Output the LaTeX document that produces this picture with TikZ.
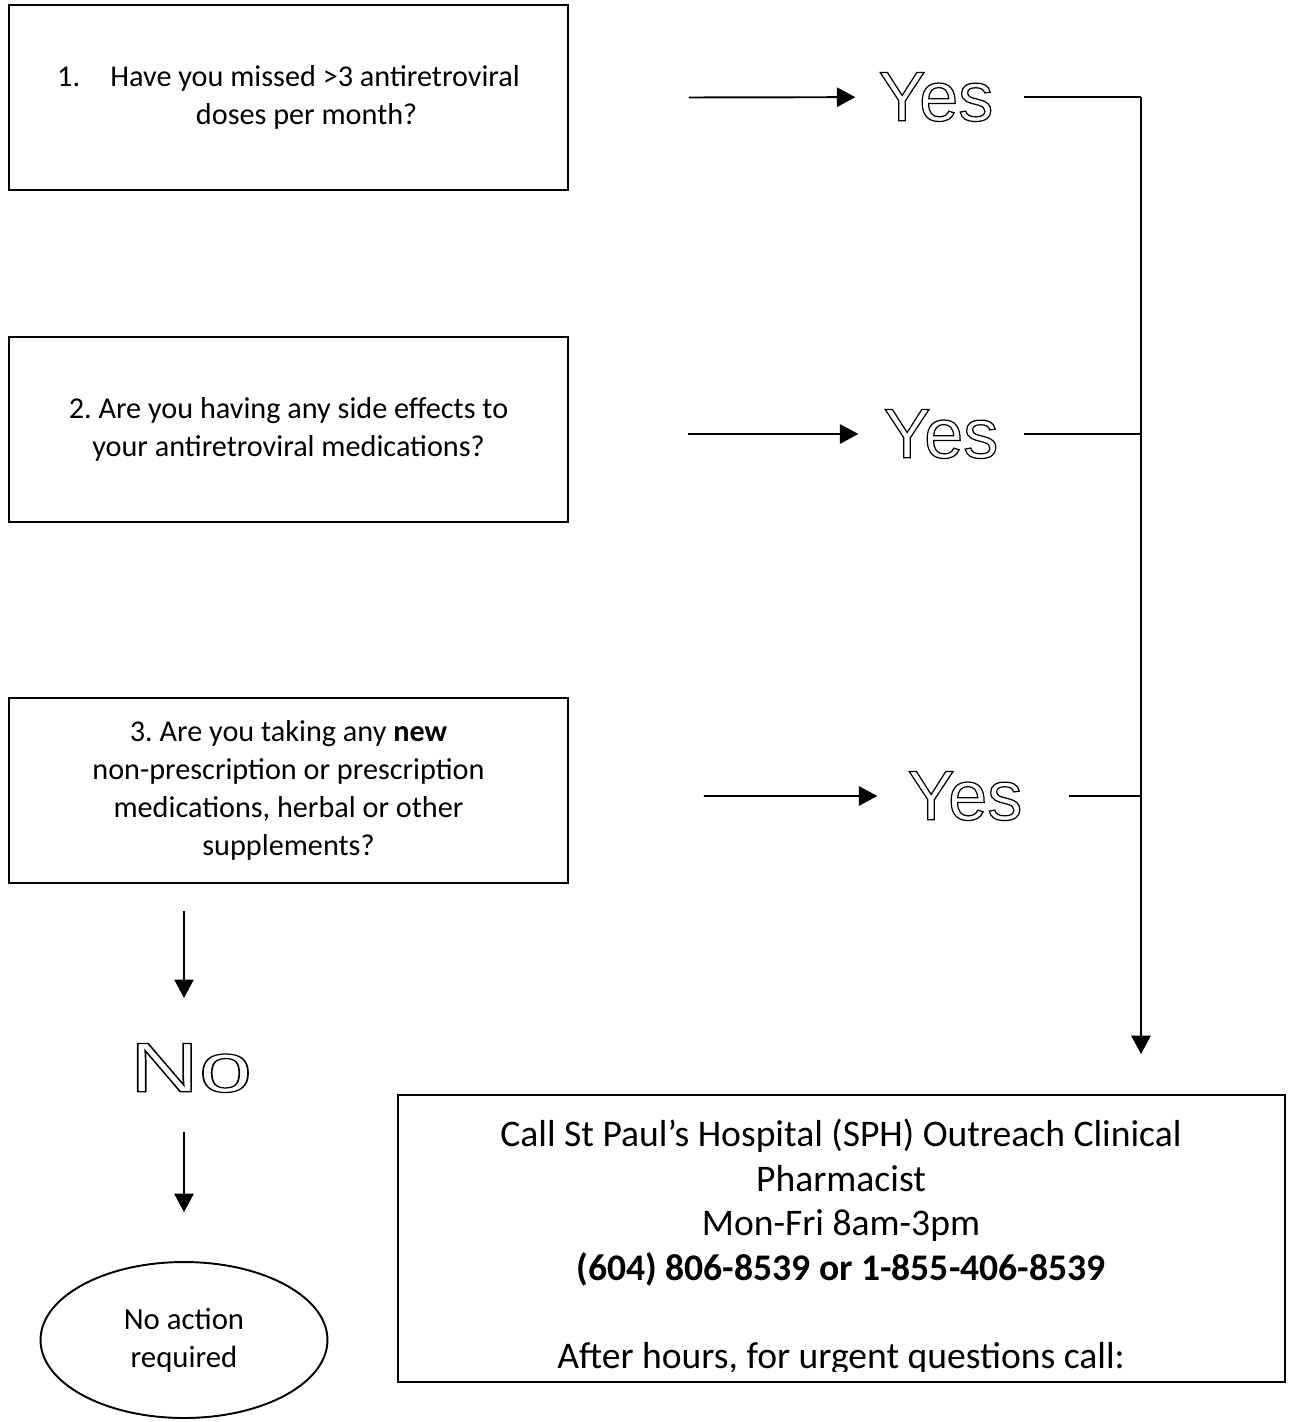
\documentclass[tikz,border=0pt]{standalone}
\usepackage{fontspec}
\setmainfont{Carlito}
\newfontfamily\hollowfont{Liberation Sans}
\usetikzlibrary{arrows.meta,calc,shapes.geometric}
\frenchspacing

% hollow (outlined) answer words
\newcommand{\hollow}[1]{{\hollowfont\fontsize{40}{41}\selectfont
  \special{pdf:literal direct 1 Tr 0.7 w}#1\special{pdf:literal direct 0 Tr 1.1 w}}}

\tikzset{
  qbox/.style={draw,line width=1.1pt,minimum width=11.18cm,minimum height=3.7cm,
    align=center,font=\fontsize{17.2}{21.5}\selectfont},
  answer/.style={inner sep=0pt},
  arr/.style={line width=1.1pt,-{Triangle[length=10.5pt,width=11pt]}},
  link/.style={line width=1.1pt},
}

\begin{document}
\begin{tikzpicture}[x=0.02cm,y=-0.02cm]
  \useasboundingbox (0,0) rectangle (1292,1422);

  % questions
  \node[qbox] (q1) at (288.5,97.5) {1.\hspace{1em}Have you missed {>}3 antiretroviral\\\hspace{1.2em}doses per month?};
  \node[qbox] (q2) at (288.5,429.5) {2. Are you having any side effects to\\your antiretroviral medications?};
  \node[qbox] (q3) at (288.5,790.5) {3. Are you taking any \textbf{new}\\non-prescription or prescription\\medications, herbal or other\\supplements?};

  % yes answers
  \node[answer] (yes1) at (936,97) {\hollow{Yes}};
  \node[answer] (yes2) at (941,434) {\hollow{Yes}};
  \node[answer] (yes3) at (965,796) {\hollow{Yes}};

  \draw[arr,shorten >=0.46cm] ($(q1.east)+(120,0)$) -- (yes1);
  \draw[arr,shorten >=0.5cm] ($(q2.east -| 688,0)+(0,4.5)$) -- (yes2);
  \draw[arr,shorten >=0.6cm] ($(q3.east)+(135,5.5)$) -- (yes3.west);

  % rail to the pharmacist
  \coordinate (rail) at (1141,97);
  \draw[link] ($(yes1.east)+(30,0)$) -- (rail);
  \draw[link] ($(yes2.east)+(25,0)$) -- (rail |- yes2);
  \draw[link] ($(yes3.east)+(46,0)$) -- (rail |- yes3);

  % pharmacist box
  \node[draw,line width=1.1pt,minimum width=17.74cm,minimum height=5.74cm] (call) at (841.5,1238.5) {};
  \draw[arr] (rail) -- ($(rail |- call.north)+(0,-40)$);
  \begin{scope}
    \clip (398,1095) rectangle (1285,1371);
    \node[anchor=north,align=center,font=\fontsize{21.4}{25.3}\selectfont] (calltxt) at (841,1113)
      {Call St Paul’s Hospital (SPH) Outreach Clinical\\Pharmacist\\Mon-Fri 8am-3pm\\
       \textbf{(604) 806-8539 or 1-855-406-8539}\\[25.3pt]After hours, for urgent questions call:};
  \end{scope}

  % no branch
  \node[answer] (no) at (191,1068) {\scalebox{1.36}[1]{\hollow{No}}};
  \node[draw,ellipse,line width=1.1pt,minimum width=5.74cm,minimum height=3.12cm,align=center,
    font=\fontsize{17.5}{21.5}\selectfont] (noaction) at (184,1340) {No action\\required};
  \draw[arr] ($(q3.south -| 184,0)+(0,27)$) -- ($(q3.south -| 184,0)+(0,114)$);
  \draw[arr] ($(noaction.north)+(0,-129)$) -- ($(noaction.north)+(0,-49)$);
\end{tikzpicture}
\end{document}
